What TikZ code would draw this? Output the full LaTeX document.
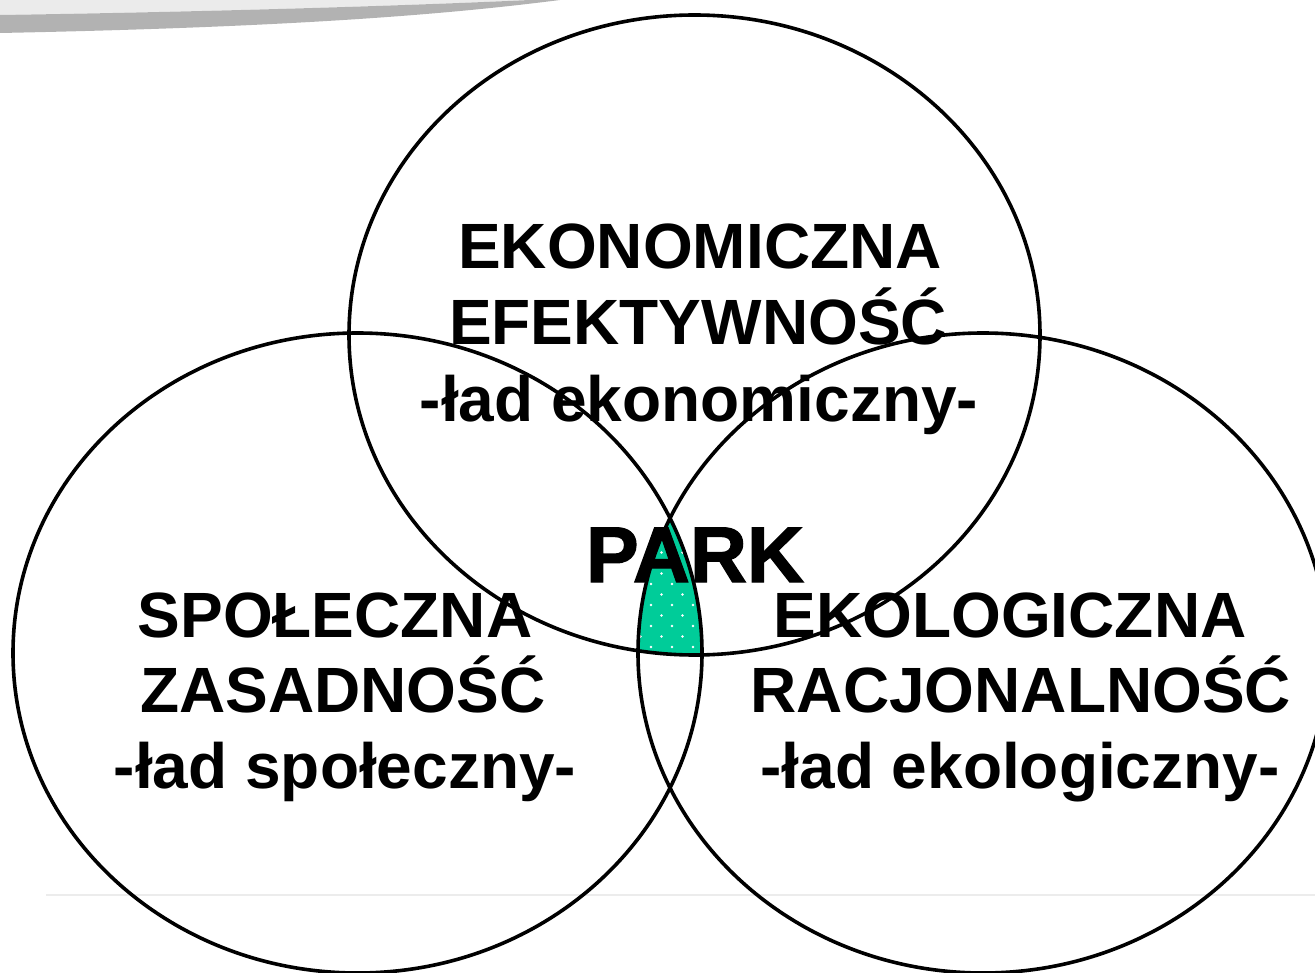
\documentclass[tikz,border=0pt]{standalone}
\usepackage{fontspec}
\setmainfont{Liberation Sans}
\newfontfamily\heavyfont[FakeBold=1.6]{Liberation Sans Bold}
\definecolor{parkgreen}{RGB}{0,204,153}
\definecolor{swlight}{RGB}{235,235,235}
\definecolor{swdark}{RGB}{178,178,178}
\definecolor{faint}{RGB}{236,236,236}
\begin{document}
\begin{tikzpicture}[x=1pt,y=-1pt,
  lbl/.style={font=\fontsize{64}{64}\selectfont\bfseries, inner sep=0pt, anchor=base},
  ring/.style={draw=black, line width=3.6pt}]
\useasboundingbox (0,0) rectangle (1315,973);
% template swoosh
\fill[swlight] (0,0) -- (0,15) .. controls (200,12) and (400,6) .. (530,0) -- cycle;
\fill[swdark] (0,15) .. controls (200,12) and (400,6) .. (530,0) -- (560,0) .. controls (450,14) and (300,27) .. (0,33) -- cycle;
% faint footer line
\draw[line width=2pt, faint] (46,894.5) -- (1315,894.5);
% green triple intersection
\begin{scope}
  \clip (357.5,653) ellipse [x radius=344.5pt, y radius=320pt];
  \clip (983,653) ellipse [x radius=345pt, y radius=320pt];
  \fill[parkgreen] (694.5,335) ellipse [x radius=345.5pt, y radius=320pt];
  \foreach \r in {0,...,16}{
    \foreach \c in {0,...,5}{
      \fill[white] ({630+21*\c+10.5*mod(\r,2)},{500+10.5*\r}) circle (1.3pt);
    }
  }
\end{scope}
% circles
\draw[ring] (694.5,335) ellipse [x radius=345.5pt, y radius=320pt];
\draw[ring] (357.5,653) ellipse [x radius=344.5pt, y radius=320pt];
\draw[ring] (983,653) ellipse [x radius=345pt, y radius=320pt];
% labels
\node[lbl] (e1) at (700,269) {EKONOMICZNA};
\node[lbl] (e2) at (698,345) {EFEKTYWNOŚĆ};
\node[lbl] (e3) at (699,422) {-ład ekonomiczny-};
\node[lbl] (s1) at (335,637) {SPOŁECZNA};
\node[lbl] (s2) at (343,712) {ZASADNOŚĆ};
\node[lbl] (s3) at (345,788) {-ład społeczny-};
\node[lbl] (k1) at (1010,637) {EKOLOGICZNA};
\node[lbl] (k2) at (1021,712) {RACJONALNOŚĆ};
\node[lbl] (k3) at (1020,788) {-ład ekologiczny-};
\node[lbl, font=\fontsize{79}{79}\heavyfont] (park) at (695,582) {PARK};
\end{tikzpicture}
\end{document}
